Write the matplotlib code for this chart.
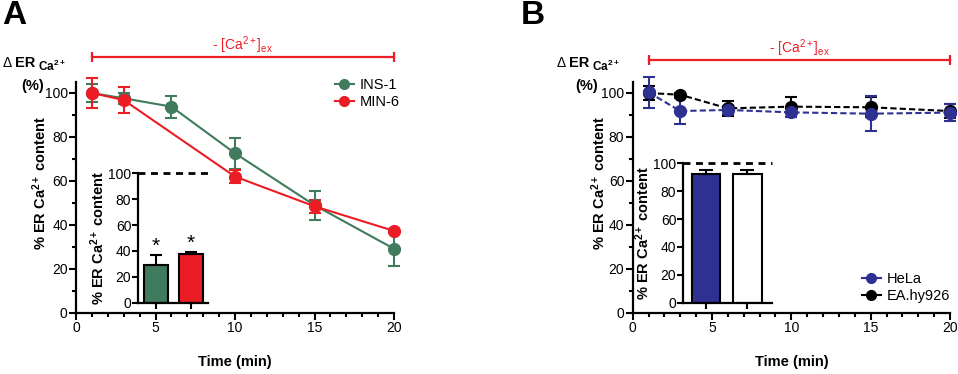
import matplotlib
matplotlib.use("Agg")
import matplotlib.pyplot as plt
from matplotlib.lines import Line2D

plt.rcParams['font.family'] = ['Liberation Sans', 'DejaVu Sans']
plt.rcParams['mathtext.fontset'] = 'custom'
plt.rcParams['mathtext.rm'] = 'Liberation Sans'
plt.rcParams['mathtext.it'] = 'Liberation Sans:italic'
plt.rcParams['mathtext.bf'] = 'Liberation Sans:bold'
plt.rcParams['font.size'] = 10

# Panel A data
ins1_time = [1, 3, 6, 10, 15, 20]
ins1_mean = [100, 97.6, 93.8, 72.6, 49, 29.2]
ins1_err = [4, 2.5, 5, 7, 6.5, 8]
min6_time = [1, 3, 10, 15, 20]
min6_mean = [100, 96.8, 62, 48.5, 37.3]
min6_err = [7, 6, 3, 3, 1]
bar_a_labels = ["INS-1", "MIN-6"]
bar_a_mean = [29, 37.4]
bar_a_err = [7.5, 1.8]

# Panel B data
hela_time = [1, 3, 6, 10, 15, 20]
hela_mean = [100.3, 91.8, 92.3, 91.2, 90.6, 91.1]
hela_err = [7, 6, 2, 2, 8, 3.8]
ea_time = [1, 3, 6, 10, 15, 20]
ea_mean = [100, 99.2, 93, 93.8, 93.5, 91.8]
ea_err = [3, 1, 3.5, 4.5, 4.5, 3]
bar_b_labels = ["HeLa", "EA.hy926"]
bar_b_mean = [92, 92.5]
bar_b_err = [3.3, 3]

green = "#3f7b5c"
red = "#ec1c24"
blue = "#2e3192"

W, H = 958, 374
fig = plt.figure(figsize=(W / 100, H / 100), dpi=100)


def px_axes(x0, y0, x1, y1):
    # pixel box (left, top, right, bottom) -> figure fraction
    return fig.add_axes([x0 / W, 1 - y1 / H, (x1 - x0) / W, (y1 - y0) / H])


def style_main(ax):
    for s in ["top", "right"]:
        ax.spines[s].set_visible(False)
    for s in ["left", "bottom"]:
        ax.spines[s].set_linewidth(1.6)
    ax.set_xlim(0, 20)
    ax.set_ylim(0, 105)
    ax.set_xticks([0, 5, 10, 15, 20])
    ax.set_xticks(range(0, 21), minor=True)
    ax.set_yticks([0, 20, 40, 60, 80, 100])
    ax.set_yticks(range(0, 101, 10), minor=True)
    ax.tick_params(which="major", length=5, width=1.5, labelsize=10, pad=1)
    ax.tick_params(which="minor", length=3, width=1.5)
    ax.spines["left"].set_bounds(0, 105)
    ax.set_facecolor("none")
    ax.set_xlabel("Time (min)", fontweight="bold", fontsize=10.5, labelpad=14)


def style_inset(ax, xlim):
    for s in ["top", "right"]:
        ax.spines[s].set_visible(False)
    for s in ["left", "bottom"]:
        ax.spines[s].set_linewidth(1.6)
    ax.set_facecolor("none")
    ax.set_ylim(0, 100)
    ax.set_xlim(*xlim)
    ax.set_yticks([0, 20, 40, 60, 80, 100])
    ax.set_xticks([0, 1])
    ax.set_xticklabels([])
    ax.tick_params(which="major", length=4, width=1.5, labelsize=10, pad=1)
    ax.axhline(100, color="black", lw=2, ls=(0, (2.5, 2)), clip_on=False)


def ca_bar(ax, y, label_y):
    ax.plot([1, 20], [y, y], color=red, lw=1.6, clip_on=False)
    ax.plot([1, 20], [y, y], color=red, ls="none", marker="|", ms=7, mew=1.6, clip_on=False)
    ax.text(10.5, label_y, r"- [Ca$^{2+}$]$_{\rm ex}$", color=red, ha="center", va="center",
            fontsize=10)


ms = 8.5
ekw = dict(lw=1.5, capsize=4.5, capthick=1.5, markersize=ms)

# ---------------- Panel A ----------------
ax = px_axes(76, 82, 394, 313)
style_main(ax)
ax.errorbar(ins1_time, ins1_mean, yerr=ins1_err, color=green, marker="o", **ekw, clip_on=False)
ax.errorbar(min6_time, min6_mean, yerr=min6_err, color=red, marker="o", **ekw, clip_on=False)
ca_bar(ax, 116.4, 121.5)
handles = [Line2D([], [], color=green, marker="o", ms=7, lw=1.5),
           Line2D([], [], color=red, marker="o", ms=7, lw=1.5)]
fig.legend(handles, bar_a_labels, loc="upper left", bbox_to_anchor=(335 / W, 1 - 78 / H),
           frameon=False, borderpad=0, borderaxespad=0, handlelength=1.3, handletextpad=0.4,
           labelspacing=0.2, fontsize=10.5)
fig.text(40 / W, 1 - 183 / H, r"% ER Ca$^{\mathbf{2+}}$ content", rotation=90, ha="center",
         va="center", fontweight="bold", fontsize=10.5)

ins = px_axes(138.3, 173.3, 208.3, 302.7)
style_inset(ins, (-0.51, 1.51))
ins.bar([0, 1], bar_a_mean, width=0.69, color=[green, red], edgecolor="black", lw=1.5,
        yerr=[[0, 0], bar_a_err], capsize=4.5, error_kw=dict(lw=1.5, capthick=1.5))
for i, m in enumerate(bar_a_mean):
    ins.text(i, m + bar_a_err[i] + 7, "*", ha="center", va="center", fontsize=15)
ins.set_ylabel(r"% ER Ca$^{\mathbf{2+}}$ content", fontweight="bold", fontsize=10.5, labelpad=1)

# ---------------- Panel B ----------------
axb = px_axes(632.7, 82, 950, 313)
style_main(axb)
axb.errorbar(ea_time, ea_mean, yerr=ea_err, color="black", marker="o", ls=(0, (3, 1.5)), **ekw,
             clip_on=False)
axb.errorbar(hela_time, hela_mean, yerr=hela_err, color=blue, marker="o", ls=(0, (3, 1.5)), **ekw,
             clip_on=False)
ca_bar(axb, 115.2, 120.5)
handles = [Line2D([], [], color=blue, marker="o", ms=7, lw=1.5),
           Line2D([], [], color="black", marker="o", ms=7, lw=1.5)]
fig.legend(handles, bar_b_labels, loc="upper left", bbox_to_anchor=(862 / W, 1 - 272 / H),
           frameon=False, borderpad=0, borderaxespad=0, handlelength=1.3, handletextpad=0.4,
           labelspacing=0.2, fontsize=10.5)
fig.text(599 / W, 1 - 183 / H, r"% ER Ca$^{\mathbf{2+}}$ content", rotation=90, ha="center",
         va="center", fontweight="bold", fontsize=10.5)

insb = px_axes(683.3, 163.3, 771.7, 302.7)
style_inset(insb, (-0.55, 1.59))
insb.bar([0, 1], bar_b_mean, width=0.69, color=[blue, "white"], edgecolor="black", lw=1.5,
         yerr=[[0, 0], bar_b_err], capsize=5, error_kw=dict(lw=1.5, capthick=1.5))
insb.set_ylabel(r"% ER Ca$^{\mathbf{2+}}$ content", fontweight="bold", fontsize=10.5, labelpad=1)

# header labels
for x0, letter in [(2, "A"), (521, "B")]:
    fig.text(x0 / W, 1 - 15 / H, letter, fontsize=24, fontweight="bold", va="center")
for x0 in [2, 556]:
    fig.text(x0 / W, 1 - 63 / H, r"$\Delta$ ", fontsize=10, va="center")
    fig.text((x0 + 13) / W, 1 - 63 / H, "ER", fontsize=10.5, fontweight="bold", va="center")
    fig.text((x0 + 36) / W, 1 - 66 / H, r"Ca$^{\mathbf{2+}}$", fontsize=8.5, fontweight="bold",
             va="center")
    fig.text((x0 + 31) / W, 1 - 86 / H, "(%)", fontsize=10.5, fontweight="bold", va="center",
             ha="center")

fig.savefig("out.png", dpi=100)
